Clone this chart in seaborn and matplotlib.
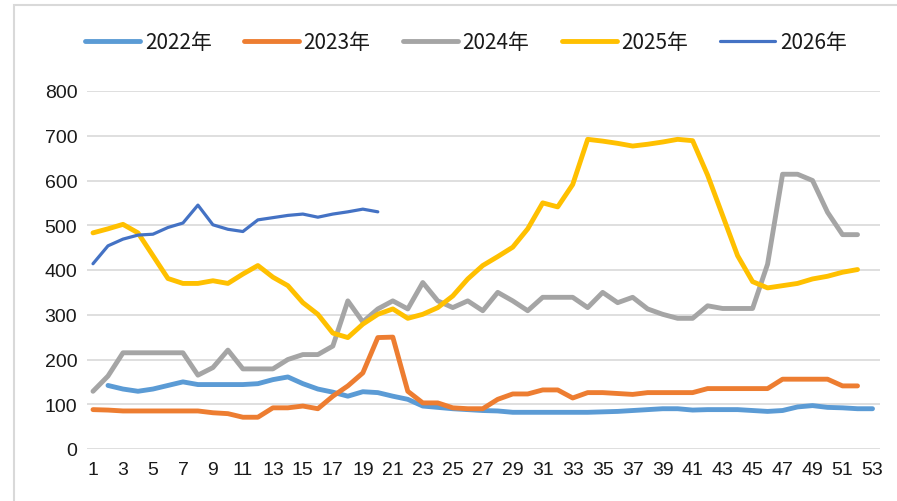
import numpy as np
import pandas as pd
import matplotlib
matplotlib.use("Agg")
import matplotlib.pyplot as plt
from matplotlib.patches import Rectangle
import seaborn as sns

# 周数 1-53
weeks = list(range(1, 54))
nan = np.nan

y2022 = [nan, 142, 134, 129, 134, 142, 150, 144, 144, 144, 144, 146, 155, 161, 146, 134, 127, 118, 128, 126,
         118, 111, 96, 93, 90, 88, 86, 85, 82, 82, 82, 82, 82, 82, 83, 84, 86, 88, 90, 90,
         87, 88, 88, 88, 86, 84, 86, 94, 97, 93, 92, 90, 90]
y2023 = [88, 87, 85, 85, 85, 85, 85, 85, 81, 79, 71, 71, 92, 92, 96, 90, 118, 141, 170, 249,
         250, 129, 103, 103, 92, 90, 90, 111, 123, 123, 132, 132, 114, 126, 126, 124, 122, 126, 126, 126,
         126, 135, 135, 135, 135, 135, 156, 156, 156, 156, 141, 141, nan]
y2024 = [129, 163, 215, 215, 215, 215, 215, 165, 182, 221, 179, 179, 179, 200, 211, 211, 230, 331, 284, 313,
         331, 313, 372, 331, 316, 331, 309, 350, 331, 309, 339, 339, 339, 316, 350, 327, 339, 313, 301, 292,
         292, 320, 314, 314, 314, 413, 614, 614, 600, 529, 479, 479, nan]
y2025 = [483, 492, 502, 483, 432, 381, 370, 370, 376, 370, 391, 410, 384, 365, 327, 301, 259, 249, 279, 301,
         313, 292, 301, 316, 342, 380, 410, 430, 451, 492, 550, 541, 591, 692, 688, 683, 677, 681, 686, 692,
         689, 612, 522, 432, 374, 360, 365, 370, 380, 386, 395, 401, nan]
y2026 = [414, 454, 469, 478, 480, 495, 505, 545, 501, 491, 486, 512, 517, 522, 525, 518, 525, 530, 536, 530] + [nan] * 33

series_names = ["2022年", "2023年", "2024年", "2025年", "2026年"]
series_vals = [y2022, y2023, y2024, y2025, y2026]
colors = ["#5B9BD5", "#ED7D31", "#A5A5A5", "#FFC000", "#4472C4"]
widths = [3.5, 3.5, 3.5, 3.5, 2.3]

sns.set_theme(style="white")
plt.rcParams['font.family'] = ['Noto Sans CJK SC', 'DejaVu Sans']

fig = plt.figure(figsize=(8.97, 5.02), dpi=100)
ax = fig.add_axes([87 / 897, 1 - 450 / 502, (880 - 87) / 897, (450 - 92) / 502])

# 外框（只看得到上边和左边）
fig.patches.append(Rectangle((14 / 897, -0.1), 1.2, 1 - 6 / 502 + 0.1,
                             transform=fig.transFigure, facecolor="none",
                             edgecolor="#D9D9D9", linewidth=1.5))

for name, vals, c, lw in zip(series_names, series_vals, colors, widths):
    df = pd.DataFrame({"周": weeks, "值": vals}).dropna()
    sns.lineplot(data=df, x="周", y="值", ax=ax, color=c, linewidth=lw, label=name)

ax.set_xlim(0.6, 53.5)
ax.set_ylim(0, 800)
ax.set_yticks(range(0, 801, 100))
ax.set_xticks(range(1, 54, 2))
ax.set_xlabel("")
ax.set_ylabel("")
ax.grid(axis="y", color="#D9D9D9", linewidth=1.2)
ax.set_axisbelow(True)
for s in ax.spines.values():
    s.set_visible(False)
ax.tick_params(axis="both", length=0, labelsize=14, colors="#1a1a1a")
ax.tick_params(axis="y", pad=7)
ax.tick_params(axis="x", pad=9)
for lab in ax.get_xticklabels() + ax.get_yticklabels():
    lab.set_family(["Liberation Sans", "DejaVu Sans"])

ax.get_legend().remove()
handles, labels = ax.get_legend_handles_labels()
fig.legend(handles, labels, loc="center", bbox_to_anchor=(466 / 897, 1 - 43 / 502),
           ncol=5, frameon=False, fontsize=15, handlelength=2.64, handletextpad=0.22,
           columnspacing=1.55, labelcolor="#1a1a1a")

fig.savefig("out.png", dpi=100)
